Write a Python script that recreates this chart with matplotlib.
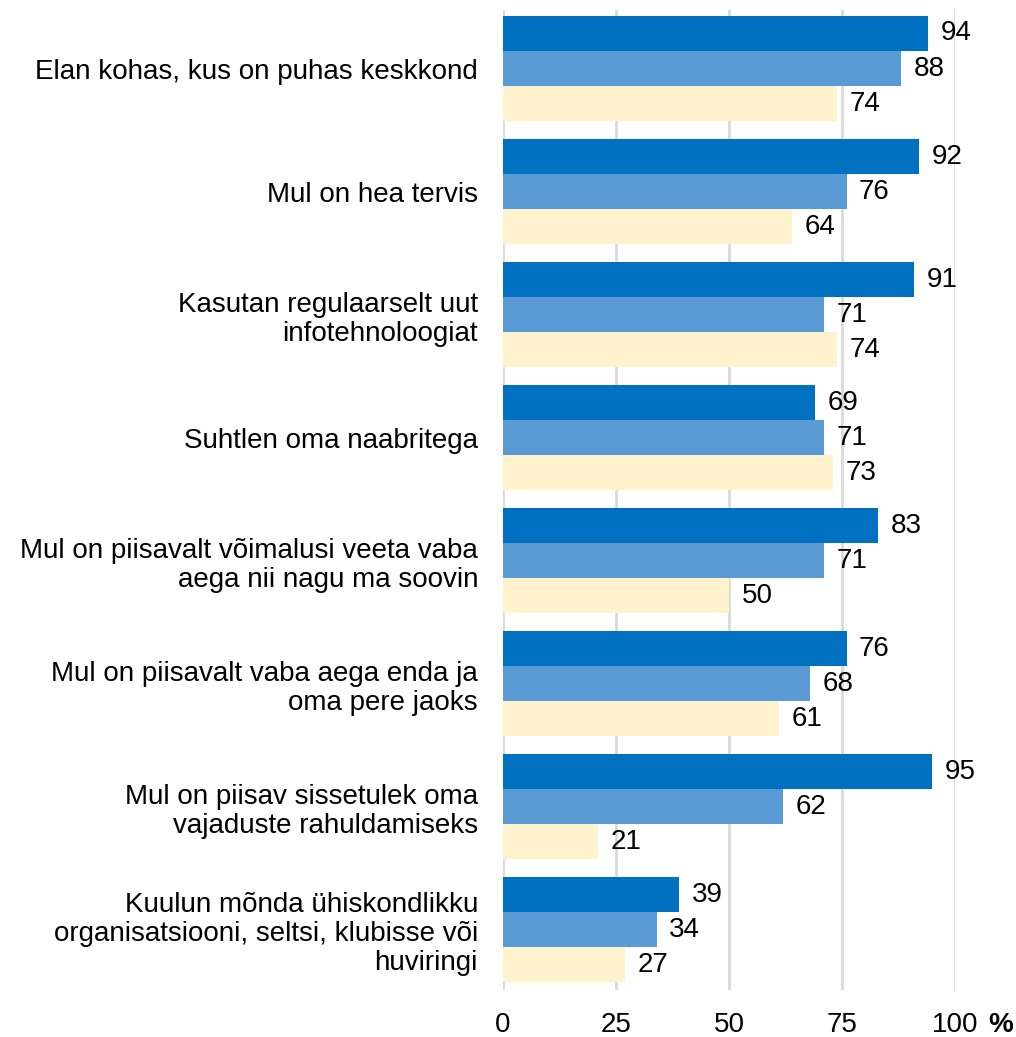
import numpy as np
import matplotlib
matplotlib.use('Agg')
from matplotlib import pyplot as plt

plt.rcParams['font.family'] = ['Liberation Sans', 'DejaVu Sans']

# survey statements and the three series (%)
categories = [
    'Elan kohas, kus on puhas keskkond',
    'Mul on hea tervis',
    'Kasutan regulaarselt uut\ninfotehnoloogiat',
    'Suhtlen oma naabritega',
    'Mul on piisavalt võimalusi veeta vaba\naega nii nagu ma soovin',
    'Mul on piisavalt vaba aega enda ja\noma pere jaoks',
    'Mul on piisav sissetulek oma\nvajaduste rahuldamiseks',
    'Kuulun mõnda ühiskondlikku\norganisatsiooni, seltsi, klubisse või\nhuviringi',
]
series_1 = [94, 92, 91, 69, 83, 76, 95, 39]
series_2 = [88, 76, 71, 71, 71, 68, 62, 34]
series_3 = [74, 64, 74, 73, 50, 61, 21, 27]
xticks = [0, 25, 50, 75, 100]
xtick_labels = ['0', '25', '50', '75', '100']

colors = ['#0070C0', '#5B9BD5', '#FFF2CC']
bar_h = 0.285
fs = 20

fig = plt.figure(figsize=(10.16, 10.37), dpi=100)
ax = fig.add_axes([503 / 1016, 1 - 990 / 1037, 452 / 1016, 980 / 1037])

y = np.arange(len(categories))
for k, vals in enumerate([series_1, series_2, series_3]):
    pos = y + (k - 1) * bar_h
    ax.barh(pos, vals, height=bar_h, color=colors[k], zorder=3)
    for p, v in zip(pos, vals):
        ax.annotate(str(v), (v, p), xytext=(9, 0), textcoords='offset points',
                    ha='left', va='center', fontsize=fs, color='#000000')

ax.set_xlim(0, 100)
ax.set_ylim(7.49, -0.476)

ax.set_xticks(xticks)
ax.set_xticklabels(xtick_labels, fontsize=fs)
ax.tick_params(axis='x', length=0, pad=16)
ax.set_yticks(y)
ax.set_yticklabels(categories, fontsize=fs, linespacing=1.15)
ax.tick_params(axis='y', length=0, pad=18)

for s in ax.spines.values():
    s.set_visible(False)
ax.grid(axis='x', color='#D9D9D9', linewidth=2, zorder=0)

# bold percent sign after the last tick label
ax.annotate('%', (100, 0), xycoords=('data', 'axes fraction'), xytext=(24, -16),
            textcoords='offset points', ha='left', va='top', fontsize=fs,
            fontweight='bold')

fig.savefig('out.png', dpi=100)
